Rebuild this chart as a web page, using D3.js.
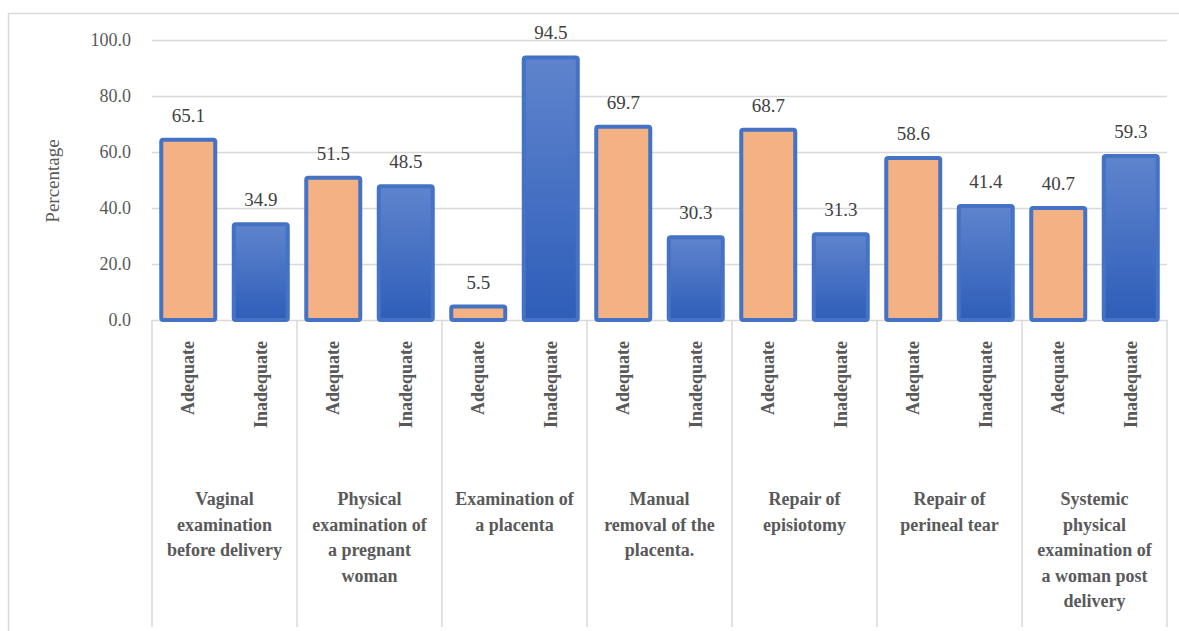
<!DOCTYPE html>
<html>
<head>
<meta charset="utf-8">
<script src="https://cdn.jsdelivr.net/npm/d3@7"></script>
<style>
  body { margin: 0; background: #fff; }
  svg text { font-family: "Liberation Serif", "Times New Roman", "DejaVu Serif", serif; }
</style>
</head>
<body>
<div id="chart"></div>
<script>
// ---------------- data
const groups = [
  "Vaginal examination before delivery",
  "Physical examination of a pregnant woman",
  "Examination of a placenta",
  "Manual removal of the placenta.",
  "Repair of episiotomy",
  "Repair of perineal tear",
  "Systemic physical examination of a woman post delivery"
]
// wrapped lines as they appear under the axis
const groupLines = [
  ["Vaginal", "examination", "before delivery"],
  ["Physical", "examination of", "a pregnant", "woman"],
  ["Examination of", "a placenta"],
  ["Manual", "removal of the", "placenta."],
  ["Repair of", "episiotomy"],
  ["Repair of", "perineal tear"],
  ["Systemic", "physical", "examination of", "a woman post", "delivery"]
]
const levels = ["Adequate", "Inadequate"]
const adequate = [65.1, 51.5, 5.5, 69.7, 68.7, 58.6, 40.7]
const inadequate = [34.9, 48.5, 94.5, 30.3, 31.3, 41.4, 59.3]
const yTicks = [0, 20, 40, 60, 80, 100]

const dataset = []
groups.forEach((g, i) => {
  dataset.push({ group: g, level: levels[0], value: adequate[i] })
  dataset.push({ group: g, level: levels[1], value: inadequate[i] })
})

// ---------------- dimensions
const dimensions = {
  width: 1179,
  height: 631,
  left: 152,
  right: 1167,
  top: 40,
  bottom: 320
}

const serif = "'Liberation Serif', 'Times New Roman', 'DejaVu Serif', serif"

const svg = d3.select("#chart")
  .append("svg")
  .attr("width", dimensions.width)
  .attr("height", dimensions.height)
  .attr("font-family", serif)

// outer frame
svg.append("path")
  .attr("d", `M8.5,${dimensions.height} V13.5 H${dimensions.width}`)
  .attr("fill", "none")
  .attr("stroke", "#D9D9D9")
  .attr("stroke-width", 1.5)

// defs: gradient for inadequate bars
const grad = svg.append("defs").append("linearGradient")
  .attr("id", "blueGrad")
  .attr("x1", 0).attr("y1", 0).attr("x2", 0).attr("y2", 1)
grad.append("stop").attr("offset", "0%").attr("stop-color", "#5F84CD")
grad.append("stop").attr("offset", "100%").attr("stop-color", "#2E5EB9")

// ---------------- scales
const xGroup = d3.scaleBand()
  .domain(groups)
  .range([dimensions.left, dimensions.right])
  .paddingInner(0)

const xSub = d3.scaleBand()
  .domain(levels)
  .range([0, xGroup.bandwidth()])
  .paddingInner(0.2)
  .paddingOuter(0.1)

const yScale = d3.scaleLinear()
  .domain([0, 100])
  .range([dimensions.bottom, dimensions.top])

// ---------------- grid + y axis
const yAxis = d3.axisLeft(yScale)
  .tickValues(yTicks)
  .tickSize(-(dimensions.right - dimensions.left))
  .tickPadding(21)
  .tickFormat(d3.format(".1f"))

const yAxisG = svg.append("g")
  .attr("transform", `translate(${dimensions.left},0)`)
  .call(yAxis)
  .attr("font-family", serif)
yAxisG.select(".domain").remove()
yAxisG.selectAll(".tick line")
  .attr("stroke", "#D9D9D9")
  .attr("stroke-width", 1.5)
yAxisG.selectAll(".tick text")
  .attr("fill", "#595959")
  .style("font-size", "18px")

svg.append("text")
  .attr("transform", `translate(59,${(dimensions.top + dimensions.bottom) / 2 + 1}) rotate(-90)`)
  .attr("text-anchor", "middle")
  .attr("fill", "#595959")
  .style("font-size", "19px")
  .text("Percentage")

// ---------------- category separators
const bounds = groups.map(g => xGroup(g)).concat([dimensions.right])
svg.append("g")
  .selectAll("line")
  .data(bounds)
  .join("line")
  .attr("x1", d => d).attr("x2", d => d)
  .attr("y1", dimensions.bottom).attr("y2", 627)
  .attr("stroke", "#D9D9D9")
  .attr("stroke-width", 1.5)

// ---------------- bars
const barG = svg.append("g")
barG.selectAll("rect")
  .data(dataset)
  .join("rect")
  .attr("x", d => xGroup(d.group) + xSub(d.level) + 2)
  .attr("width", xSub.bandwidth() - 4)
  .attr("y", d => yScale(d.value) + 2)
  .attr("height", d => yScale(0) - yScale(d.value) - 2)
  .attr("rx", 2)
  .attr("fill", d => d.level === "Adequate" ? "#F4B183" : "url(#blueGrad)")
  .attr("stroke", "#4472C4")
  .attr("stroke-width", 4)

// value labels
svg.append("g")
  .selectAll("text")
  .data(dataset)
  .join("text")
  .attr("x", d => xGroup(d.group) + xSub(d.level) + xSub.bandwidth() / 2)
  .attr("y", d => yScale(d.value) - 16)
  .attr("text-anchor", "middle")
  .attr("fill", "#404040")
  .style("font-size", "19px")
  .text(d => d.value.toFixed(1))

// sub-category labels (rotated)
svg.append("g")
  .selectAll("text")
  .data(dataset)
  .join("text")
  .attr("transform", d => {
    const cx = xGroup(d.group) + xSub(d.level) + xSub.bandwidth() / 2
    return `translate(${cx + 6},341) rotate(-90)`
  })
  .attr("text-anchor", "end")
  .attr("fill", "#595959")
  .style("font-size", "18px")
  .style("font-weight", "bold")
  .text(d => d.level)

// group labels
const gl = svg.append("g")
  .selectAll("text")
  .data(groups)
  .join("text")
  .attr("x", d => xGroup(d) + xGroup.bandwidth() / 2)
  .attr("y", 505)
  .attr("text-anchor", "middle")
  .attr("fill", "#595959")
  .style("font-size", "18px")
  .style("font-weight", "bold")

gl.selectAll("tspan")
  .data((d, i) => groupLines[i])
  .join("tspan")
  .attr("x", function () { return d3.select(this.parentNode).attr("x") })
  .attr("dy", (d, i) => i === 0 ? 0 : 25.5)
  .text(d => d)
</script>
</body>
</html>
